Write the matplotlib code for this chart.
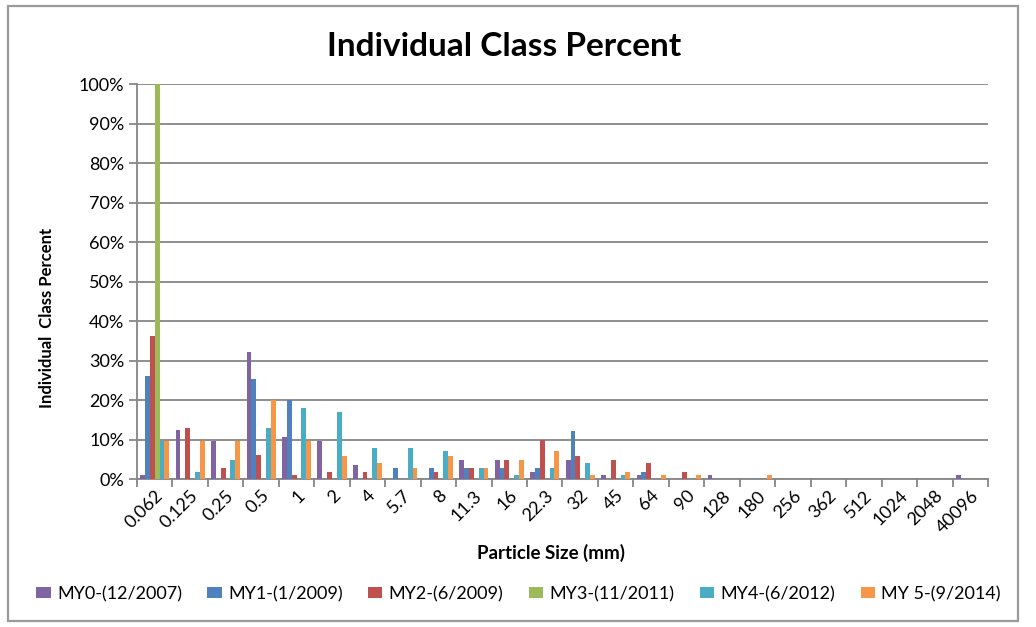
import matplotlib
matplotlib.use("Agg")
import matplotlib.pyplot as plt
import numpy as np
from matplotlib.patches import Rectangle

categories = ['0.062', '0.125', '0.25', '0.5', '1', '2', '4', '5.7', '8', '11.3', '16',
              '22.3', '32', '45', '64', '90', '128', '180', '256', '362', '512', '1024',
              '2048', '40096']

my0 = [1.0, 12.5, 9.7, 32.1, 10.6, 9.7, 3.6, 0, 0, 4.8, 4.8, 1.7, 4.8, 0.9, 0.9, 0, 0.9,
       0, 0, 0, 0, 0, 0, 0.9]
my1 = [26.0, 0, 0, 25.2, 20.0, 0, 0, 2.9, 2.9, 2.9, 2.9, 2.9, 12.1, 0, 1.7, 0, 0,
       0, 0, 0, 0, 0, 0, 0]
my2 = [36.3, 12.9, 2.8, 6.0, 1.0, 1.7, 1.7, 0, 1.7, 2.9, 4.8, 9.8, 5.9, 4.8, 4.0, 1.7, 0,
       0, 0, 0, 0, 0, 0, 0]
my3 = [100.0, 0, 0, 0, 0, 0, 0, 0, 0, 0, 0, 0, 0, 0, 0, 0, 0,
       0, 0, 0, 0, 0, 0, 0]
my4 = [9.7, 1.7, 4.8, 12.9, 17.9, 17.0, 7.8, 7.8, 7.1, 2.9, 0.9, 2.9, 4.0, 0.9, 0, 0, 0,
       0, 0, 0, 0, 0, 0, 0]
my5 = [9.7, 9.7, 9.7, 20.1, 9.7, 5.9, 4.0, 2.9, 5.9, 2.9, 4.8, 7.1, 0.9, 1.7, 0.9, 0.9, 0,
       0.9, 0, 0, 0, 0, 0, 0]

series_names = ['MY0-(12/2007)', 'MY1-(1/2009)', 'MY2-(6/2009)', 'MY3-(11/2011)',
                'MY4-(6/2012)', 'MY 5-(9/2014)']
series = [my0, my1, my2, my3, my4, my5]
colors = ['#8064A2', '#4F81BD', '#C0504D', '#9BBB59', '#4BACC6', '#F79646']

FONT = 'Lato'
plt.rcParams['font.family'] = [FONT, 'DejaVu Sans']

fig = plt.figure(figsize=(10.36, 6.27), dpi=100)
ax = fig.add_axes([0.1322, 0.236, 0.8215, 0.630])

n = len(series)
x = np.arange(len(categories))
group_w = 0.82
bw = group_w / n
for i, (vals, c, name) in enumerate(zip(series, colors, series_names)):
    ax.bar(x - group_w / 2 + bw * (i + 0.5), np.array(vals) / 100.0, width=bw,
           color=c, label=name, zorder=3, linewidth=0)

ax.set_xlim(-0.5, len(categories) - 0.5)
ax.set_ylim(0, 1.0)
yt = np.arange(0, 1.01, 0.1)
ax.set_yticks(yt)
ax.set_yticklabels([f'{int(round(v*100))}%' for v in yt], fontsize=13)
ax.yaxis.grid(True, color='#868686', linewidth=1.3, zorder=0)
ax.set_xticks(x)
ax.set_xticklabels(categories, rotation=45, ha='right', rotation_mode='anchor', fontsize=13)
ax.tick_params(axis='x', length=0, pad=6)
ax.set_xticks(np.arange(-0.5, len(categories), 1), minor=True)
ax.tick_params(axis='x', which='minor', length=6, color='#868686', width=1.3)
ax.tick_params(axis='y', length=6, color='#868686', width=1.3, pad=3)
for s in ['top', 'right']:
    ax.spines[s].set_visible(False)
for s in ['left', 'bottom']:
    ax.spines[s].set_color('#868686')
    ax.spines[s].set_linewidth(1.3)

ax.set_xlabel('Particle Size (mm)', fontsize=13.5, fontweight='bold')
ax.xaxis.set_label_coords(0.487, -0.165)
ax.set_ylabel('Individual  Class Percent', fontsize=12, fontweight='bold')
ax.yaxis.set_label_coords(-0.0964, 0.408)
fig.text(0.4865, 1 - 46 / 627, 'Individual Class Percent', ha='center', va='center',
         fontsize=24, fontweight='bold')

fig.legend(loc='center', bbox_to_anchor=(0.5005, 0.0526), ncol=6, frameon=False,
           fontsize=13, handlelength=0.8, handleheight=0.6, handletextpad=0.35,
           columnspacing=1.4)

fig.patches.append(Rectangle((8 / 1036, 1 - 621 / 627), 1010 / 1036, 615 / 627,
                             transform=fig.transFigure, fill=False,
                             edgecolor='#9A9A9A', linewidth=1.6))

fig.savefig('out.png', dpi=100)
